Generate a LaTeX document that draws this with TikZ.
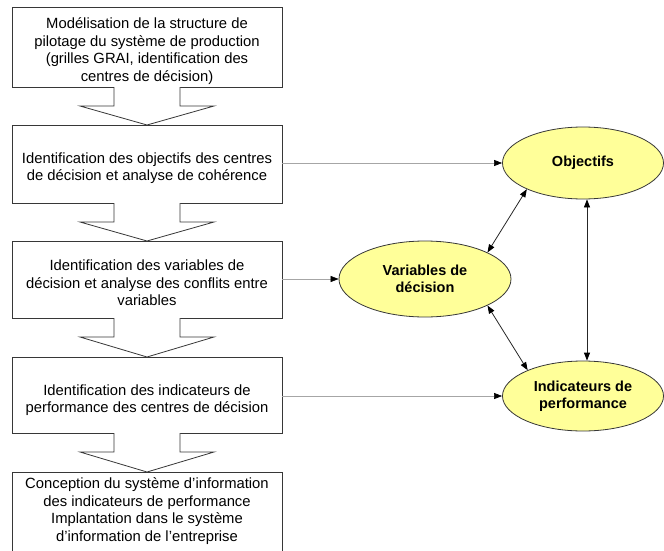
\documentclass[tikz,border=0pt]{standalone}
\usepackage{fontspec}
\setmainfont{Liberation Sans}
\usetikzlibrary{arrows.meta,shapes.geometric}
\definecolor{ellfill}{RGB}{255,255,153}
\definecolor{edge}{RGB}{55,55,55}
\tikzset{
  stepbox/.style={draw=edge,line width=0.8pt,fill=white},
  steptext/.style={align=center,font=\fontsize{14.8}{17.5}\selectfont,inner sep=0pt},
  ell/.style={ellipse,draw=edge,line width=0.8pt,fill=ellfill,inner sep=0pt,
    align=center,font=\fontsize{14.5}{17.5}\selectfont\bfseries},
  blockarrow/.style={draw=edge,line width=0.8pt,fill=white,line join=miter},
  conn/.style={draw=gray!70,line width=0.6pt,-{Triangle[length=8pt,width=6pt,color=black]}},
  dbl/.style={draw=black!85,line width=0.8pt,{Triangle[length=8pt,width=6pt,color=black]}-{Triangle[length=8pt,width=6pt,color=black]}},
}
\begin{document}
\begin{tikzpicture}[x=1pt,y=-1pt]
\useasboundingbox (0,0) rectangle (664,551);
\clip (0,0) rectangle (664,551);
% boxes
\draw[stepbox] (12,7) rectangle (282,87);
\draw[stepbox] (12,125) rectangle (282,203);
\draw[stepbox] (12,241) rectangle (282,318);
\draw[stepbox] (12,357) rectangle (282,433);
\draw[stepbox] (12,472) rectangle (282,600);
\node[inner sep=0pt,minimum width=270pt,minimum height=78pt] (b2) at (147,164) {};
\node[inner sep=0pt,minimum width=270pt,minimum height=77pt] (b3) at (147,279.5) {};
\node[inner sep=0pt,minimum width=270pt,minimum height=76pt] (b4) at (147,395) {};
% texts
\node[steptext] (t1) at (147,51) {Modélisation de la structure de\\pilotage du système de production\\(grilles GRAI, identification des\\centres de décision)};
\node[steptext] (t2) at (147,168) {Identification des objectifs des centres\\de décision et analyse de cohérence};
\node[steptext] (t3) at (147,283) {Identification des variables de\\décision et analyse des conflits entre\\variables};
\node[steptext] (t4) at (147,400) {Identification des indicateurs de\\performance des centres de décision};
\node[steptext] (t5) at (147,511) {Conception du système d’information\\des indicateurs de performance\\Implantation dans le système\\d’information de l’entreprise};
% block arrows
\foreach \b/\t in {87/125,203/241,318/357,433/472}{
  \draw[blockarrow] (114,\b) -- (114,\b+19) -- (80,\b+19) -- (147,\t) -- (214,\b+19) -- (180,\b+19) -- (180,\b);
}
% ellipses
\node[ell,minimum width=161pt,minimum height=72pt] (obj) at (583,163) {Objectifs};
\node[ell,minimum width=172pt,minimum height=76pt] (var) at (425,279) {Variables de\\décision};
\node[ell,minimum width=161pt,minimum height=70pt] (ind) at (583,396) {Indicateurs de\\performance};
% connectors
\draw[conn] (obj.west -| b2.east) -- (obj.west);
\draw[conn] (var.west -| b3.east) -- (var.west);
\draw[conn] (ind.west -| b4.east) -- (ind.west);
\draw[dbl] (var.23) -- (obj.205);
\draw[dbl] (var.-23) -- (ind.155);
\draw[dbl] ([xshift=4pt]obj.south) -- ([xshift=4pt]ind.north);
\end{tikzpicture}
\end{document}
